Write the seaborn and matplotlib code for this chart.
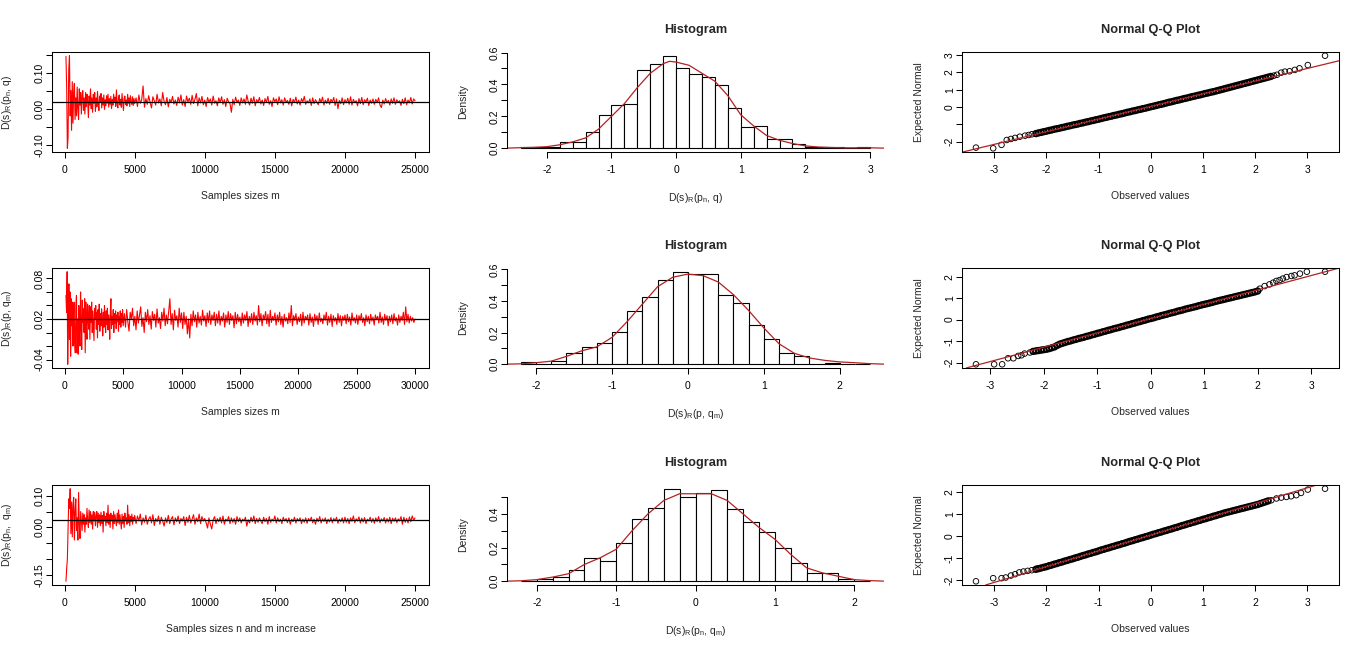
import numpy as np
import matplotlib
matplotlib.use("Agg")
import matplotlib.pyplot as plt
import seaborn as sns

sns.set_style("ticks")
plt.rcParams['font.family'] = ['Liberation Sans', 'DejaVu Sans']
plt.rcParams['mathtext.fontset'] = 'custom'
plt.rcParams['mathtext.rm'] = 'Liberation Sans'
plt.rcParams['mathtext.it'] = 'Liberation Sans:italic'
plt.rcParams['axes.unicode_minus'] = False

# ---------------- data ----------------
# left column: running statistic; sizes 100..5000 step 50, then 5100.. step 100
early_start, early_step = 100, 50
late_start, late_step = 5100, 100

trace1_early = [0.145, 0.060, -0.110, -0.080, 0.110, 0.147, -0.020, 0.050, -0.060, 0.075,
                -0.040, 0.045, 0.070, -0.030, 0.030, -0.020, 0.060, 0.000, -0.030, 0.055,
                0.010, 0.045, -0.015, 0.035, 0.050, -0.005, 0.030, -0.015, 0.045, 0.005,
                0.040, 0.020, -0.025, 0.035, 0.010, 0.055, 0.000, 0.030, -0.010, 0.040,
                0.015, 0.045, -0.008, 0.030, 0.005, 0.048, 0.012, -0.005, 0.035, 0.020,
                0.042, 0.002, 0.030, 0.010, 0.038, -0.002, 0.025, 0.008, 0.036, 0.015,
                0.040, 0.004, 0.028, 0.012, 0.034, 0.000, 0.026, 0.010, 0.040, 0.018,
                0.032, 0.006, 0.052, 0.014, 0.002, 0.030, 0.038, 0.010, 0.026, 0.004,
                0.042, 0.016, -0.005, 0.028, 0.035, 0.012, 0.024, 0.008, 0.040, 0.015,
                0.030, 0.006, 0.036, 0.018, 0.012, 0.033, 0.009, 0.028, 0.014]
trace1_late = [0.030, 0.006, 0.038, 0.015, 0.024, 0.063, 0.004, 0.028, 0.012, 0.036,
               0.018, 0.002, 0.033, 0.022, 0.010, 0.040, 0.016, 0.027, 0.008, 0.045,
               0.020, 0.011, 0.031, 0.005, 0.026, 0.017, 0.034, 0.013, 0.024, 0.009,
               0.032, 0.016, 0.038, 0.010, 0.025, 0.006, 0.035, 0.019, 0.029, 0.012,
               0.037, 0.014, 0.026, 0.042, 0.008, 0.030, 0.016, 0.034, 0.011, 0.024,
               0.006, 0.031, 0.018, 0.027, 0.010, 0.035, 0.015, 0.022, 0.008, 0.030,
               0.017, 0.033, 0.012, 0.025, 0.006, 0.029, 0.019, 0.014, -0.010, 0.026,
               0.011, 0.032, 0.018, 0.024, 0.009, 0.030, 0.016, 0.027, 0.012, 0.038,
               0.020, 0.010, 0.029, 0.015, 0.033, 0.008, 0.025, 0.018, 0.031, 0.013,
               0.024, 0.009, 0.028, 0.017, 0.034, 0.012, 0.022, 0.006, 0.030, 0.019,
               0.027, 0.011, 0.033, 0.016, 0.025, 0.010, 0.030, 0.018, 0.023, 0.012,
               0.029, 0.008, 0.026, 0.017, 0.032, 0.013, 0.024, 0.010, 0.028, 0.019,
               0.034, 0.012, 0.022, 0.016, 0.027, 0.009, 0.030, 0.014, 0.025, 0.018,
               0.011, 0.028, 0.017, 0.032, 0.010, 0.024, 0.015, 0.029, 0.012, 0.026,
               0.018, 0.031, 0.009, 0.027, 0.000, 0.023, 0.014, 0.030, 0.011, 0.025,
               0.016, 0.029, 0.012, 0.033, 0.010, 0.026, 0.017, 0.022, 0.008, 0.028,
               0.014, 0.031, 0.011, 0.025, 0.018, 0.029, 0.009, 0.024, 0.015, 0.027,
               0.012, 0.026, 0.017, 0.030, 0.010, 0.003, 0.024, 0.013, 0.028, 0.016,
               0.023, 0.010, 0.027, 0.015, 0.030, 0.012, 0.025, 0.017, 0.022, 0.009,
               0.026, 0.014, 0.030, 0.011, 0.024, 0.016, 0.031, 0.013, 0.027, 0.022]

trace2_early = [0.055, 0.030, 0.090, -0.047, 0.020, 0.072, -0.010, 0.060, -0.035, 0.050,
                0.010, 0.045, -0.020, 0.030, 0.045, -0.015, -0.030, 0.040, 0.055, -0.030,
                0.020, -0.032, 0.040, 0.000, -0.020, 0.060, 0.010, -0.025, 0.048, 0.015,
                0.035, 0.000, 0.050, -0.030, 0.045, 0.010, -0.010, 0.042, 0.020, 0.005,
                0.040, -0.010, 0.038, 0.015, 0.045, 0.000, 0.032, 0.010, -0.012, 0.036,
                0.020, 0.040, 0.005, 0.030, -0.008, 0.034, 0.012, 0.042, 0.002, 0.028,
                0.010, 0.035, 0.018, -0.005, 0.030, 0.008, 0.040, 0.015, 0.000, 0.032,
                0.012, 0.036, 0.004, 0.026, 0.018, -0.010, 0.030, 0.050, 0.006, 0.024,
                0.012, 0.034, 0.000, 0.028, 0.014, 0.032, 0.006, 0.026, 0.016, 0.030,
                0.002, 0.024, 0.012, 0.032, 0.008, 0.028, 0.015, 0.034, 0.010]
trace2_late = [0.028, 0.008, 0.034, 0.016, 0.002, 0.030, 0.020, 0.036, 0.010, 0.024,
               0.004, 0.032, 0.014, 0.026, 0.038, 0.009, 0.022, 0.000, 0.030, 0.016,
               0.034, 0.012, 0.025, 0.005, 0.031, 0.018, 0.027, 0.008, 0.035, 0.014,
               0.022, 0.006, 0.030, 0.017, 0.036, 0.010, 0.026, 0.013, 0.032, 0.050,
               0.012, 0.028, 0.004, 0.033, 0.018, 0.025, 0.008, 0.036, 0.015, 0.029,
               0.006, 0.030, 0.012, 0.024, -0.002, 0.020, -0.008, 0.027, 0.010, 0.032,
               0.016, 0.026, 0.008, 0.030, 0.014, 0.024, 0.011, 0.033, 0.017, 0.025,
               0.009, 0.029, 0.015, 0.032, 0.012, 0.026, 0.018, 0.030, 0.010, 0.027,
               0.014, 0.032, 0.011, 0.024, 0.017, 0.029, 0.008, 0.026, 0.015, 0.031,
               0.012, 0.028, 0.018, 0.025, 0.007, 0.030, 0.013, 0.027, 0.016, 0.023,
               0.010, 0.029, 0.014, 0.026, 0.018, 0.031, 0.009, 0.024, 0.015, 0.028,
               0.012, 0.030, 0.017, 0.025, 0.011, 0.040, 0.016, 0.028, 0.010, 0.026,
               0.019, 0.031, 0.013, 0.027, 0.009, 0.033, 0.015, 0.024, 0.018, 0.029,
               0.011, 0.026, 0.016, 0.030, 0.012, 0.024, 0.008, 0.027, 0.017, 0.022,
               0.013, 0.029, 0.015, 0.040, 0.010, 0.025, 0.018, 0.028, 0.012, 0.023,
               0.016, 0.027, 0.010, 0.030, 0.014, 0.024, 0.019, 0.026, 0.011, 0.028,
               0.015, 0.023, 0.009, 0.027, 0.017, 0.025, 0.012, 0.029, 0.016, 0.021,
               0.013, 0.026, 0.018, 0.030, 0.011, 0.024, 0.015, 0.027, 0.009, 0.025,
               0.017, 0.022, 0.012, 0.028, 0.015, 0.025, 0.010, 0.024, 0.018, 0.026,
               0.013, 0.027, 0.016, 0.023, 0.011, 0.029, 0.017, 0.022, 0.014, 0.026,
               0.012, 0.025, 0.018, 0.028, 0.015, 0.022, 0.010, 0.026, 0.016, 0.024,
               0.013, 0.027, 0.017, 0.023, 0.011, 0.026, 0.019, 0.024, 0.014, 0.030,
               0.015, 0.023, 0.012, 0.027, 0.018, 0.025, 0.010, 0.024, 0.016, 0.026,
               0.013, 0.028, 0.017, 0.022, 0.011, 0.026, 0.015, 0.024, 0.018, 0.030,
               0.012, 0.038, 0.016, 0.027, 0.014, 0.024, 0.017, 0.022, 0.015, 0.020]

trace3_early = [-0.170, -0.130, -0.100, 0.000, 0.090, 0.060, 0.122, -0.020, 0.080, -0.030,
                0.070, 0.095, -0.040, 0.050, 0.090, -0.010, 0.030, -0.040, 0.110, 0.010,
                -0.035, 0.050, 0.020, -0.010, 0.045, 0.010, 0.040, -0.015, 0.030, 0.010,
                0.060, 0.020, 0.000, 0.055, 0.015, 0.050, 0.010, 0.040, -0.005, 0.050,
                0.020, 0.048, 0.005, 0.035, 0.050, 0.000, 0.045, 0.015, 0.040, 0.005,
                0.048, 0.012, 0.038, -0.015, 0.050, 0.020, 0.035, 0.005, 0.045, 0.015,
                0.070, 0.010, 0.040, 0.000, 0.045, 0.020, 0.038, -0.005, 0.050, 0.012,
                0.040, 0.020, 0.005, 0.045, 0.015, 0.055, 0.010, 0.040, 0.018, -0.005,
                0.042, 0.012, 0.035, 0.000, 0.045, 0.020, 0.030, 0.010, 0.070, 0.015,
                0.040, 0.005, 0.035, 0.018, 0.042, 0.010, 0.032, 0.020, 0.038]
trace3_late = [0.012, 0.036, 0.020, 0.042, 0.008, 0.030, 0.016, 0.038, 0.010, 0.026,
               0.034, 0.014, 0.040, 0.006, 0.028, 0.018, 0.036, 0.010, 0.032, 0.020,
               0.004, 0.030, 0.015, 0.038, 0.012, 0.026, 0.034, 0.008, 0.030, 0.018,
               0.036, 0.012, 0.028, 0.020, 0.034, 0.006, 0.032, 0.016, 0.038, 0.014,
               0.026, 0.040, 0.010, 0.030, 0.018, 0.042, 0.012, 0.034, 0.020, 0.028,
               0.014, -0.002, 0.030, 0.010, -0.005, 0.024, 0.034, 0.012, 0.028, 0.018,
               0.032, 0.014, 0.036, 0.010, 0.026, 0.020, 0.034, 0.012, 0.030, 0.016,
               0.028, 0.010, 0.034, 0.018, 0.030, 0.014, 0.026, 0.020, 0.032, 0.004,
               0.024, 0.014, 0.032, 0.018, 0.036, 0.012, 0.028, 0.016, 0.030, 0.020,
               0.012, 0.032, 0.018, 0.028, 0.010, 0.034, 0.016, 0.026, 0.020, 0.036,
               0.014, 0.030, 0.018, 0.026, 0.012, 0.032, 0.020, 0.028, 0.015, 0.030,
               0.010, 0.026, 0.018, 0.032, 0.014, 0.028, 0.020, 0.030, 0.012, 0.026,
               0.016, 0.030, 0.013, 0.028, 0.020, 0.032, 0.015, 0.026, 0.010, 0.029,
               0.018, 0.034, 0.014, 0.027, 0.019, 0.030, 0.012, 0.026, 0.017, 0.031,
               0.015, 0.028, 0.020, 0.032, 0.013, 0.026, 0.018, 0.030, 0.014, 0.032,
               0.016, 0.028, 0.012, 0.030, 0.019, 0.036, 0.015, 0.027, 0.020, 0.033,
               0.014, 0.029, 0.017, 0.031, 0.012, 0.026, 0.020, 0.032, 0.016, 0.028,
               0.013, 0.030, 0.018, 0.034, 0.015, 0.027, 0.020, 0.031, 0.014, 0.028,
               0.017, 0.032, 0.012, 0.029, 0.019, 0.030, 0.015, 0.027, 0.020, 0.034,
               0.010, 0.032, 0.016, 0.028, 0.014, 0.033, 0.018, 0.036, 0.022, 0.030]

trace_refs = [0.019, 0.020, 0.023]

# middle column: histogram densities (bin width 0.2) and density curves
bin_width = 0.2
hist1_start = -2.4
hist1_heights = [0.010, 0.005, 0.010, 0.040, 0.040, 0.100, 0.210, 0.270, 0.280, 0.490,
                 0.525, 0.580, 0.500, 0.465, 0.445, 0.395, 0.255, 0.135, 0.140, 0.058,
                 0.060, 0.025, 0.010, 0.005, 0.005, 0.000, 0.005]
dens1_x = [-2.62, -2.4, -2.2, -2.0, -1.8, -1.6, -1.4, -1.2, -1.0, -0.8, -0.6, -0.4, -0.2,
           -0.1, 0.0, 0.2, 0.4, 0.6, 0.8, 1.0, 1.2, 1.4, 1.6, 1.8, 2.0, 2.2, 2.4, 2.6,
           2.8, 3.0, 3.22]
dens1_y = [0.001, 0.004, 0.006, 0.010, 0.022, 0.040, 0.065, 0.120, 0.200, 0.280, 0.380,
           0.470, 0.530, 0.545, 0.540, 0.520, 0.470, 0.420, 0.330, 0.210, 0.140, 0.080,
           0.050, 0.030, 0.015, 0.008, 0.005, 0.003, 0.003, 0.003, 0.001]

hist2_start = -2.2
hist2_heights = [0.012, 0.004, 0.020, 0.070, 0.110, 0.135, 0.205, 0.335, 0.425, 0.530,
                 0.585, 0.570, 0.570, 0.435, 0.390, 0.250, 0.160, 0.070, 0.050, 0.005,
                 0.006, 0.004, 0.003]
dens2_x = [-2.38, -2.2, -2.0, -1.8, -1.6, -1.4, -1.2, -1.0, -0.8, -0.6, -0.4, -0.2, 0.0,
           0.2, 0.4, 0.6, 0.8, 1.0, 1.2, 1.4, 1.6, 1.8, 2.0, 2.2, 2.4, 2.58]
dens2_y = [0.001, 0.003, 0.010, 0.020, 0.050, 0.085, 0.110, 0.170, 0.270, 0.380, 0.490,
           0.550, 0.570, 0.560, 0.520, 0.440, 0.340, 0.230, 0.130, 0.070, 0.040, 0.025,
           0.015, 0.010, 0.004, 0.001]

hist3_start = -2.2
hist3_heights = [0.004, 0.015, 0.025, 0.070, 0.140, 0.122, 0.230, 0.370, 0.435, 0.550,
                 0.500, 0.525, 0.540, 0.430, 0.350, 0.290, 0.195, 0.110, 0.048, 0.048,
                 0.012, 0.004]
dens3_x = [-2.37, -2.2, -2.0, -1.8, -1.6, -1.4, -1.2, -1.0, -0.8, -0.6, -0.4, -0.2, 0.0,
           0.2, 0.4, 0.6, 0.8, 1.0, 1.2, 1.4, 1.6, 1.8, 2.0, 2.2, 2.37]
dens3_y = [0.001, 0.003, 0.010, 0.025, 0.045, 0.100, 0.140, 0.190, 0.300, 0.400, 0.480,
           0.520, 0.520, 0.520, 0.480, 0.400, 0.320, 0.250, 0.160, 0.080, 0.050, 0.030,
           0.010, 0.004, 0.001]

# right column: Q-Q points (tails read point by point, core band every 0.05 from -2.2)
qq_core_start, qq_core_step = -2.2, 0.05

qq1_left_x = [-3.35, -3.02, -2.86, -2.76, -2.68, -2.60, -2.51, -2.41, -2.34, -2.28]
qq1_left_y = [-2.35, -2.39, -2.19, -1.91, -1.85, -1.79, -1.72, -1.66, -1.62, -1.58]
qq1_core_y = [-1.54, -1.50, -1.47, -1.43, -1.40, -1.36, -1.33, -1.29, -1.26, -1.23,
              -1.19, -1.16, -1.12, -1.09, -1.05, -1.02, -0.99, -0.95, -0.92, -0.88,
              -0.85, -0.81, -0.78, -0.74, -0.71, -0.67, -0.63, -0.60, -0.56, -0.53,
              -0.49, -0.46, -0.42, -0.39, -0.35, -0.31, -0.28, -0.24, -0.21, -0.17,
              -0.14, -0.10, -0.07, -0.03, 0.01, 0.04, 0.08, 0.12, 0.15, 0.19,
              0.23, 0.27, 0.30, 0.34, 0.38, 0.41, 0.45, 0.49, 0.52, 0.56,
              0.60, 0.63, 0.67, 0.70, 0.74, 0.78, 0.81, 0.85, 0.88, 0.92,
              0.96, 1.00, 1.04, 1.08, 1.12, 1.16, 1.20, 1.24, 1.28, 1.32,
              1.36, 1.40, 1.44, 1.48, 1.52, 1.56, 1.60, 1.64, 1.68, 1.72, 1.76]
qq1_right_x = [2.36, 2.42, 2.50, 2.57, 2.66, 2.76, 2.85, 3.01, 3.34]
qq1_right_y = [1.81, 1.86, 1.98, 2.04, 2.06, 2.14, 2.23, 2.42, 2.96]
qq1_line = (0.731, 0.03)

qq2_left_x = [-3.27, -2.93, -2.78, -2.67, -2.57, -2.48, -2.42, -2.36, -2.26, -2.14]
qq2_left_y = [-2.08, -2.08, -2.08, -1.80, -1.80, -1.69, -1.66, -1.58, -1.53, -1.45]
qq2_core_y = [-1.48, -1.46, -1.44, -1.42, -1.40, -1.38, -1.35, -1.31, -1.27, -1.20,
              -1.14, -1.10, -1.06, -1.02, -0.99, -0.95, -0.92, -0.88, -0.85, -0.82,
              -0.78, -0.75, -0.71, -0.68, -0.64, -0.61, -0.57, -0.54, -0.50, -0.47,
              -0.43, -0.40, -0.37, -0.33, -0.30, -0.26, -0.23, -0.19, -0.16, -0.12,
              -0.09, -0.05, -0.02, 0.02, 0.05, 0.08, 0.12, 0.15, 0.19, 0.22,
              0.25, 0.29, 0.32, 0.35, 0.39, 0.42, 0.45, 0.49, 0.52, 0.55,
              0.58, 0.61, 0.65, 0.68, 0.71, 0.74, 0.77, 0.80, 0.84, 0.87,
              0.90, 0.93, 0.96, 0.99, 1.02, 1.05, 1.08, 1.11, 1.14, 1.17,
              1.20, 1.23, 1.26, 1.29, 1.33]
qq2_right_x = [2.04, 2.13, 2.22, 2.29, 2.35, 2.41, 2.47, 2.54, 2.63, 2.69, 2.79, 2.92, 3.26]
qq2_right_y = [1.44, 1.56, 1.64, 1.72, 1.80, 1.84, 1.91, 1.98, 2.03, 2.06, 2.14, 2.23, 2.23]
qq2_line = (0.667, 0.05)

qq3_left_x = [-3.35, -3.02, -2.86, -2.78, -2.68, -2.60, -2.52, -2.44, -2.36, -2.28, -2.19]
qq3_left_y = [-2.04, -1.90, -1.90, -1.87, -1.78, -1.72, -1.64, -1.60, -1.57, -1.54, -1.48]
qq3_core_y = [-1.50, -1.47, -1.44, -1.41, -1.38, -1.34, -1.31, -1.27, -1.24, -1.20,
              -1.17, -1.13, -1.10, -1.06, -1.03, -0.99, -0.96, -0.92, -0.88, -0.85,
              -0.81, -0.78, -0.74, -0.71, -0.67, -0.63, -0.60, -0.56, -0.53, -0.49,
              -0.46, -0.42, -0.39, -0.35, -0.32, -0.28, -0.24, -0.21, -0.17, -0.14,
              -0.10, -0.07, -0.03, 0.00, 0.04, 0.08, 0.11, 0.15, 0.18, 0.22,
              0.25, 0.29, 0.32, 0.36, 0.39, 0.43, 0.47, 0.50, 0.54, 0.57,
              0.61, 0.64, 0.68, 0.71, 0.75, 0.78, 0.82, 0.85, 0.89, 0.92,
              0.96, 0.99, 1.03, 1.06, 1.09, 1.12, 1.15, 1.18, 1.21, 1.24,
              1.27, 1.30, 1.33, 1.36, 1.39, 1.42, 1.46, 1.50, 1.54, 1.58]
qq3_right_x = [2.31, 2.41, 2.50, 2.60, 2.69, 2.79, 2.88, 3.01, 3.34]
qq3_right_y = [1.61, 1.69, 1.73, 1.76, 1.79, 1.84, 1.94, 2.09, 2.13]
qq3_line = (0.71, 0.04)

trace_ylabels = [r'D(s)$_\mathrm{R}$(p$_\mathrm{n}$, q)',
                 r'D(s)$_\mathrm{R}$(p, q$_\mathrm{m}$)',
                 r'D(s)$_\mathrm{R}$(p$_\mathrm{n}$,  q$_\mathrm{m}$)']
hist_xlabels = [r'D(s)$_\mathrm{R}$(p$_\mathrm{n}$, q)',
                r'D(s)$_\mathrm{R}$(p, q$_\mathrm{m}$)',
                r'D(s)$_\mathrm{R}$(p$_\mathrm{n}$, q$_\mathrm{m}$)']
trace_xlabels = ['Samples sizes m', 'Samples sizes m', 'Samples sizes n and m increase']

# ---------------- styling helpers ----------------
FS = 7.5
RED = '#FF0000'
DARK_RED = '#B22222'
TICK_LEN = 4.3


def r_lim(lo, hi):
    # base R style 4% padding
    pad = 0.04 * (hi - lo)
    return lo - pad, hi + pad


def style_ticks(ax):
    ax.tick_params(axis='both', direction='out', length=TICK_LEN, width=0.75,
                   colors='black', labelsize=FS)
    ax.tick_params(axis='x', pad=5)
    ax.tick_params(axis='y', pad=0.8)
    for lab in ax.get_yticklabels():
        lab.set_rotation(90)
        lab.set_va('center')


def place_labels(ax, xlabel, ylabel):
    ax.set_xlabel(xlabel, fontsize=FS)
    ax.set_ylabel(ylabel, fontsize=FS)
    ax.xaxis.set_label_coords(0.5, -0.39)
    ax.yaxis.set_label_coords(-0.102, 0.5)


def box(ax):
    for sp in ax.spines.values():
        sp.set_visible(True)
        sp.set_linewidth(0.75)
        sp.set_color('black')


def trace_panel(ax, early, late, ref, xticks, yticks, ylabs, xlabel, ylabel):
    x = np.concatenate([early_start + early_step * np.arange(len(early)),
                        late_start + late_step * np.arange(len(late))])
    y = np.array(early + late)
    sns.lineplot(x=x, y=y, ax=ax, color=RED, lw=0.8, estimator=None, sort=False)
    ax.axhline(ref, color='black', lw=0.9)
    ax.set_xlim(r_lim(x.min(), x.max()))
    ax.set_ylim(r_lim(y.min(), y.max()))
    ax.set_xticks(xticks, [str(t) for t in xticks])
    ax.set_yticks(yticks, ylabs)
    box(ax)
    style_ticks(ax)
    place_labels(ax, xlabel, ylabel)


def hist_panel(ax, start, heights, cx, cy, xticks, yticks, ylabs, xlabel):
    lo = start
    hi = start + bin_width * len(heights)
    centers = start + bin_width * (np.arange(len(heights)) + 0.5)
    sns.histplot(x=centers, weights=np.asarray(heights), binwidth=bin_width,
                 binrange=(lo, hi), ax=ax, stat='count',
                 color='white', edgecolor='black', linewidth=0.8, alpha=1)
    sns.lineplot(x=cx, y=cy, ax=ax, color=DARK_RED, lw=0.9, estimator=None, sort=False)
    ax.set_xlim(r_lim(lo, hi))
    ax.set_ylim(r_lim(0, max(heights)))
    ax.set_xticks(xticks, [str(t) for t in xticks])
    ax.set_yticks(yticks, ylabs)
    for side in ['top', 'right']:
        ax.spines[side].set_visible(False)
    ax.spines['left'].set_bounds(yticks[0], yticks[-1])
    ax.spines['bottom'].set_bounds(xticks[0], xticks[-1])
    for side in ['left', 'bottom']:
        ax.spines[side].set_linewidth(0.75)
        ax.spines[side].set_color('black')
    ax.set_title('Histogram', fontsize=9.2, fontweight='bold', pad=14)
    style_ticks(ax)
    place_labels(ax, xlabel, 'Density')


def qq_panel(ax, lx, ly, core_y, rx, ry, line, yticks, ylabs):
    core_x = qq_core_start + qq_core_step * np.arange(len(core_y))
    tail_x = np.concatenate([lx, rx])
    tail_y = np.concatenate([ly, ry])
    # dense middle of the cloud reads as a solid band, so heavier outlines there
    sns.scatterplot(x=core_x, y=core_y, ax=ax, marker='o', s=16, facecolors='none',
                    edgecolor='black', linewidth=1.3)
    sns.scatterplot(x=tail_x, y=tail_y, ax=ax, marker='o', s=16, facecolors='none',
                    edgecolor='black', linewidth=0.65)
    ax.axline((0, line[1]), slope=line[0], color=DARK_RED, lw=0.9)
    all_x = np.concatenate([tail_x, core_x])
    all_y = np.concatenate([tail_y, core_y])
    ax.set_xlim(r_lim(all_x.min(), all_x.max()))
    ax.set_ylim(r_lim(all_y.min(), all_y.max()))
    xt = [-3, -2, -1, 0, 1, 2, 3]
    ax.set_xticks(xt, [str(t) for t in xt])
    ax.set_yticks(yticks, ylabs)
    box(ax)
    ax.set_title('Normal Q-Q Plot', fontsize=9.2, fontweight='bold', pad=14)
    style_ticks(ax)
    place_labels(ax, 'Observed values', 'Expected Normal')


# ---------------- figure ----------------
W, H = 1366, 650
fig = plt.figure(figsize=(W / 100, H / 100), dpi=100)
col_left = [52, 507, 962]
row_top = [52, 268, 485]
pw, ph = 377, 100
axes = [[fig.add_axes([l / W, 1 - (t + ph) / H, pw / W, ph / H]) for l in col_left]
        for t in row_top]

trace_panel(axes[0][0], trace1_early, trace1_late, trace_refs[0],
            [0, 5000, 10000, 15000, 20000, 25000],
            [-0.10, -0.05, 0.0, 0.05, 0.10, 0.15], ['-0.10', '', '0.00', '', '0.10', ''],
            trace_xlabels[0], trace_ylabels[0])
trace_panel(axes[1][0], trace2_early, trace2_late, trace_refs[1],
            [0, 5000, 10000, 15000, 20000, 25000, 30000],
            [-0.04, -0.02, 0.0, 0.02, 0.04, 0.06, 0.08],
            ['-0.04', '', '', '0.02', '', '', '0.08'],
            trace_xlabels[1], trace_ylabels[1])
trace_panel(axes[2][0], trace3_early, trace3_late, trace_refs[2],
            [0, 5000, 10000, 15000, 20000, 25000],
            [-0.15, -0.10, -0.05, 0.0, 0.05, 0.10],
            ['-0.15', '', '', '0.00', '', '0.10'],
            trace_xlabels[2], trace_ylabels[2])

hist_panel(axes[0][1], hist1_start, hist1_heights, dens1_x, dens1_y,
           [-2, -1, 0, 1, 2, 3], [0, 0.1, 0.2, 0.3, 0.4, 0.5, 0.6],
           ['0.0', '', '0.2', '', '0.4', '', '0.6'], hist_xlabels[0])
hist_panel(axes[1][1], hist2_start, hist2_heights, dens2_x, dens2_y,
           [-2, -1, 0, 1, 2], [0, 0.1, 0.2, 0.3, 0.4, 0.5, 0.6],
           ['0.0', '', '0.2', '', '0.4', '', '0.6'], hist_xlabels[1])
hist_panel(axes[2][1], hist3_start, hist3_heights, dens3_x, dens3_y,
           [-2, -1, 0, 1, 2], [0, 0.1, 0.2, 0.3, 0.4, 0.5],
           ['0.0', '', '0.2', '', '0.4', ''], hist_xlabels[2])

qq_panel(axes[0][2], qq1_left_x, qq1_left_y, qq1_core_y, qq1_right_x, qq1_right_y,
         qq1_line, [-2, -1, 0, 1, 2, 3], ['-2', '', '0', '1', '2', '3'])
qq_panel(axes[1][2], qq2_left_x, qq2_left_y, qq2_core_y, qq2_right_x, qq2_right_y,
         qq2_line, [-2, -1, 0, 1, 2], ['-2', '-1', '0', '1', '2'])
qq_panel(axes[2][2], qq3_left_x, qq3_left_y, qq3_core_y, qq3_right_x, qq3_right_y,
         qq3_line, [-2, -1, 0, 1, 2], ['-2', '-1', '0', '1', '2'])

fig.savefig('out.png', dpi=100, facecolor='white')
